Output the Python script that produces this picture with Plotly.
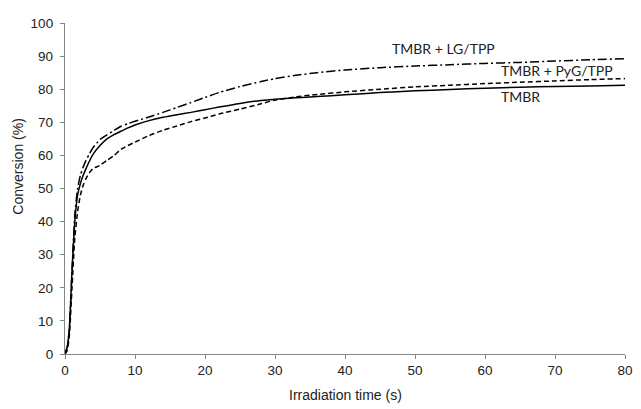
import plotly.graph_objects as go

# irradiation time (s)
time_s = [0, 0.3, 0.6, 1.0, 1.4, 1.8, 2.2, 2.6, 3, 3.5, 4, 5, 6, 7, 8, 9, 10, 12, 14, 16, 18,
          20, 22, 25, 28, 30, 33, 36, 40, 45, 50, 55, 60, 65, 70, 75, 80]

# conversion (%)
tmbr = [0, 2, 7, 25, 40, 48, 51.5, 54, 56, 58.3, 60.3, 63, 65, 66.3, 67.3, 68.3, 69.2, 70.5, 71.5,
        72.3, 73, 73.8, 74.6, 75.7, 76.6, 77, 77.4, 77.8, 78.3, 79, 79.5, 79.9, 80.3, 80.6, 80.8, 81, 81.2]
tmbr_lg = [0, 2, 7, 25, 42, 50, 54, 56.5, 58.5, 60.5, 62.3, 64.8, 66.2, 67.5, 68.8, 69.6, 70.3, 71.6, 73,
           74.5, 76, 77.5, 79, 80.8, 82.3, 83.2, 84.2, 85, 85.8, 86.5, 87, 87.4, 87.8, 88.1, 88.5, 88.9, 89.2]
tmbr_pyg = [0, 1, 5, 20, 35, 43, 48, 51, 53, 54.8, 56, 57, 58.5, 60, 61.8, 63, 64, 66, 67.6,
            68.9, 70.2, 71.3, 72.5, 74, 75.6, 76.7, 77.7, 78.4, 79.2, 80, 80.7, 81.2, 81.7, 82.1, 82.5, 82.9, 83.2]

series = [
    ("TMBR", tmbr, "solid"),
    ("TMBR + LG/TPP", tmbr_lg, "9px,3px,2px,3px"),
    ("TMBR + PyG/TPP", tmbr_pyg, "5px,3px"),
]

fig = go.Figure()
for name, vals, dash in series:
    fig.add_trace(go.Scatter(x=time_s, y=vals, mode="lines", name=name,
                             line=dict(color="black", width=1.5, dash=dash, shape="spline", smoothing=0.6)))

axis_style = dict(showgrid=False, zeroline=False, showline=True, linecolor="#858585", linewidth=1.3,
                  ticks="outside", ticklen=4, tickcolor="#858585", tickwidth=1.3,
                  tickfont=dict(family="Liberation Sans, Arial", size=13.5, color="#222"))

fig.update_xaxes(range=[0, 80], dtick=10, **axis_style)
fig.update_yaxes(range=[0, 100], dtick=10, ticklabelstandoff=4, **axis_style)

# page body has an 8px margin, so the figure is 8px smaller each way
OFF = 8
W, H = 641 - OFF, 409 - OFF
L, R, T, B = 65 - OFF, 8, 16 - OFF, 55

def px(xs, ys):
    # screen pixel -> paper coords
    xp, yp = xs - OFF, ys - OFF
    return (xp - L) / (W - L - R), (H - B - yp) / (H - T - B)

lab_font = dict(family="Lato, Open Sans", size=14, color="#222")
labels = [("TMBR + LG/TPP", 449, 41.7), ("TMBR + PyG/TPP", 564, 65), ("TMBR", 527, 90.7)]
for txt, xs, ys in labels:
    xx, yy = px(xs, ys)
    fig.add_annotation(x=xx, y=yy, xref="paper", yref="paper", text=txt, showarrow=False,
                       xanchor="center", yanchor="middle", font=lab_font)

title_font = dict(family="Liberation Sans, Arial", size=14, color="#222")
xx, yy = px(17, 163)
fig.add_annotation(x=xx, y=yy, xref="paper", yref="paper", text="Conversion (%)", textangle=-90,
                   showarrow=False, xanchor="center", yanchor="middle", font=title_font)
xx, yy = px(349, 396)
fig.add_annotation(x=xx, y=yy, xref="paper", yref="paper", text="Irradiation time (s)",
                   showarrow=False, xanchor="center", yanchor="middle", font=title_font)

fig.update_layout(width=W, height=H, showlegend=False, template="plotly_white",
                  plot_bgcolor="white", paper_bgcolor="white",
                  margin=dict(l=L, r=R, t=T, b=B))

fig.write_html("out.html")
